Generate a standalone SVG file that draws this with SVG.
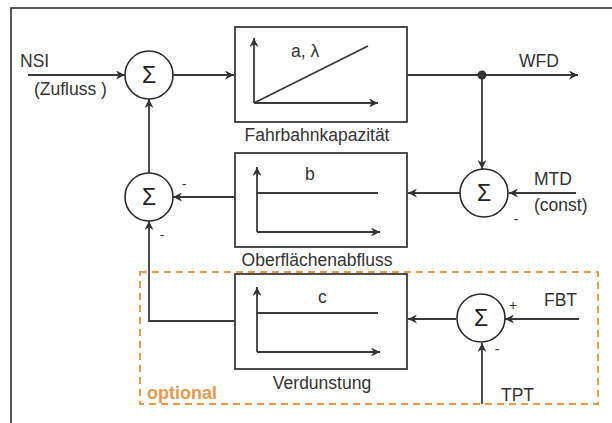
<svg xmlns="http://www.w3.org/2000/svg" width="612" height="423" viewBox="0 0 612 423">
<defs>
<marker id="ah" viewBox="0 0 10 10" refX="10" refY="5" markerWidth="9" markerHeight="9" markerUnits="userSpaceOnUse" orient="auto">
<path d="M0,0 L10,5 L0,10 L3,5 z" fill="#333"/>
</marker>
<style>
.ln{fill:none;stroke:#3a3a3a;stroke-width:1.8}
.ar{fill:none;stroke:#3a3a3a;stroke-width:1.8;marker-end:url(#ah)}
.bx{fill:#fff;stroke:#3a3a3a;stroke-width:1.8}
.sm{fill:#fff;stroke:#2a2a2a;stroke-width:1.6}
.t{font-family:"Liberation Sans",Arial,sans-serif;font-size:17.5px;fill:#333}
.sg{font-family:"Liberation Sans",Arial,sans-serif;font-size:23px;fill:#222;text-anchor:middle}
.sgn{font-family:"Liberation Sans",Arial,sans-serif;font-size:14px;fill:#333;text-anchor:middle}
.c{text-anchor:middle}
</style>
</defs>
<rect width="612" height="423" fill="#fff"/>
<rect x="11" y="8" width="700" height="500" fill="none" stroke="#222" stroke-width="1.5"/>

<g id="optional">
<rect x="140" y="272" width="458" height="132" fill="none" stroke="#E89A4C" stroke-width="2" stroke-dasharray="7,5"/>
<text x="147" y="399" font-family="'Liberation Sans',Arial,sans-serif" font-size="18" font-weight="bold" fill="#E89A4C">optional</text>
</g>

<g id="connectors">
<path class="ar" d="M28,75 H125"/>
<path class="ar" d="M173,75 H234"/>
<path class="ar" d="M407,75 H578"/>
<path class="ar" d="M482,75 V169"/>
<path class="ar" d="M576,193 H509"/>
<path class="ar" d="M460,193 H408"/>
<path class="ar" d="M235,197 H173"/>
<path class="ar" d="M149,173 V99"/>
<path class="ar" d="M235,321 H149 V221"/>
<path class="ar" d="M456,319 H408"/>
<path class="ar" d="M579,319 H505"/>
<path class="ar" d="M482,404 V343"/>
<circle cx="482" cy="75" r="4.5" fill="#333"/>
</g>

<g id="box-fahrbahn">
<rect class="bx" x="235" y="27" width="172" height="95"/>
<path class="ar" d="M254,103 V38"/>
<path class="ar" d="M254,103 H378"/>
<path class="ln" d="M254,103 L368,46"/>
<text class="t" x="291" y="57">a, λ</text>
<text class="t c" x="317" y="141">Fahrbahnkapazität</text>
</g>

<g id="box-oberflaeche">
<rect class="bx" x="235" y="153" width="172" height="94"/>
<path class="ar" d="M257,232 V167"/>
<path class="ar" d="M257,232 H380"/>
<path class="ln" d="M257,193 H378"/>
<text class="t" x="305" y="180">b</text>
<text class="t c" x="317" y="266">Oberflächenabfluss</text>
</g>

<g id="box-verdunstung">
<rect class="bx" x="235" y="274" width="172" height="95"/>
<path class="ar" d="M257,352 V287"/>
<path class="ar" d="M257,352 H380"/>
<path class="ln" d="M257,313 H378"/>
<text class="t" x="318" y="303">c</text>
<text class="t c" x="322" y="389">Verdunstung</text>
</g>

<g id="sum1">
<circle class="sm" cx="149" cy="75" r="24"/>
<text class="sg" x="149" y="83">Σ</text>
</g>

<g id="sum2">
<circle class="sm" cx="149" cy="197" r="24"/>
<text class="sg" x="149" y="205">Σ</text>
<text class="sgn" x="184" y="189">-</text>
<text class="sgn" x="162" y="240">-</text>
</g>

<g id="sum3">
<circle class="sm" cx="484" cy="193" r="24"/>
<text class="sg" x="484" y="201">Σ</text>
<text class="sgn" x="516" y="224">-</text>
</g>

<g id="sum4">
<circle class="sm" cx="481" cy="318" r="24"/>
<text class="sg" x="481" y="326">Σ</text>
<text class="sgn" x="513" y="310">+</text>
<text class="sgn" x="497" y="354">-</text>
</g>

<g id="labels">
<text class="t" x="20" y="67">NSI</text>
<text class="t" x="34" y="95">(Zufluss )</text>
<text class="t" x="519" y="67">WFD</text>
<text class="t" x="534" y="185">MTD</text>
<text class="t" x="534" y="211" font-size="15">(const)</text>
<text class="t" x="544" y="306">FBT</text>
<text class="t" x="501" y="401">TPT</text>
</g>
</svg>
